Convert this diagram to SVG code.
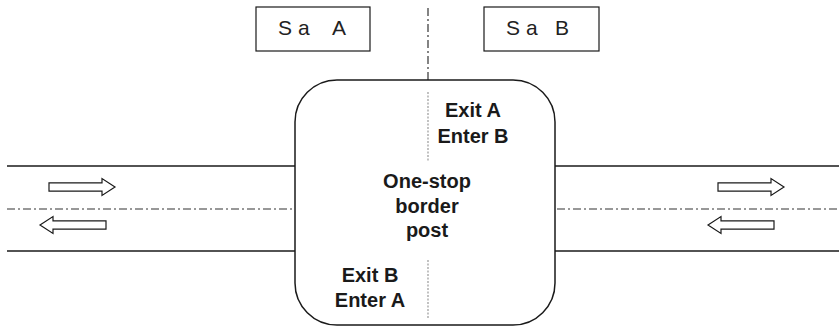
<svg xmlns="http://www.w3.org/2000/svg" width="839" height="329" viewBox="0 0 839 329">
  <style>
    .line { stroke: #1a1a1a; stroke-width: 1.3; fill: none; }
    .axis { stroke: #333; stroke-width: 1.2; fill: none; stroke-dasharray: 8 3 2 3; }
    .divider { stroke: #999; stroke-width: 1.2; fill: none; stroke-dasharray: 2 1.5; }
    .arrow { fill: #fff; stroke: #1a1a1a; stroke-width: 1.2; }
    .label { font-family: "Liberation Sans", Arial, sans-serif; font-size: 20px; font-weight: bold; fill: #1a1a1a; text-anchor: middle; }
    .state { font-family: "Liberation Sans", Arial, sans-serif; font-size: 21px; fill: #222; }
    .box { fill: #fff; stroke: #1a1a1a; stroke-width: 1.2; }
  </style>
  <defs>
    <polygon id="arrowR" points="0,-4.2 53,-4.2 53,-8.5 66,0 53,8.5 53,4.2 0,4.2"/>
  </defs>
  <rect width="839" height="329" fill="#fff"/>

  <!-- roads and centre lines -->
  <g id="connectors">
    <line class="line" x1="7" y1="166" x2="295" y2="166"/>
    <line class="line" x1="7" y1="251" x2="295" y2="251"/>
    <line class="axis" x1="7" y1="209" x2="295" y2="209"/>
    <line class="line" x1="555" y1="166" x2="839" y2="166"/>
    <line class="line" x1="555" y1="251" x2="839" y2="251"/>
    <line class="axis" x1="557" y1="209" x2="839" y2="209"/>
    <line class="axis" x1="428" y1="8" x2="428" y2="80"/>
    <use href="#arrowR" class="arrow" x="49" y="187"/>
    <use href="#arrowR" class="arrow" transform="translate(106 225) scale(-1 1)"/>
    <use href="#arrowR" class="arrow" x="718" y="187"/>
    <use href="#arrowR" class="arrow" transform="translate(774 225) scale(-1 1)"/>
  </g>

  <g id="stateA">
    <rect class="box" x="256" y="7" width="114" height="44"/>
    <text class="state" y="35"><tspan x="278">S</tspan><tspan x="298">a </tspan><tspan x="332">A</tspan></text>
  </g>
  <g id="stateB">
    <rect class="box" x="484" y="7" width="115" height="44"/>
    <text class="state" y="35"><tspan x="506">S</tspan><tspan x="526">a </tspan><tspan x="555">B</tspan></text>
  </g>

  <g id="borderPost">
    <rect x="295" y="80" width="260" height="245" rx="42" ry="42" fill="#fff" stroke="#1a1a1a" stroke-width="1.5"/>
    <line class="divider" x1="428" y1="92" x2="428" y2="162"/>
    <line class="divider" x1="428" y1="260" x2="428" y2="318"/>
    <text class="label" x="473" y="117">Exit A</text>
    <text class="label" x="473" y="143">Enter B</text>
    <text class="label" x="427" y="188">One-stop</text>
    <text class="label" x="427" y="213">border</text>
    <text class="label" x="427" y="237">post</text>
    <text class="label" x="370" y="282">Exit B</text>
    <text class="label" x="370" y="307">Enter A</text>
  </g>
</svg>
